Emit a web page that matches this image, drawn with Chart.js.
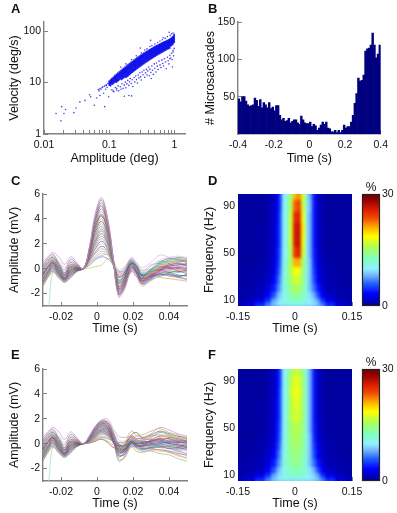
<!DOCTYPE html>
<html>
<head>
<meta charset="utf-8">
<style>
  html, body { margin: 0; padding: 0; background: #fff; }
  body { position: relative; width: 397px; height: 513px; overflow: hidden; font-family: "Liberation Sans", Arial, sans-serif; color: #111; }
  canvas { position: absolute; }
  .letter { position: absolute; font-size: 13px; font-weight: bold; line-height: 12px; }
  .pct { position: absolute; font-size: 12px; line-height: 12px; transform: translateX(-50%); }
</style>
</head>
<body>
<canvas id="chartA" width="197" height="170" style="left:0;top:0"></canvas>
<canvas id="chartB" width="197" height="170" style="left:200px;top:0"></canvas>
<canvas id="chartC" width="197" height="170" style="left:0;top:170px"></canvas>
<canvas id="chartD" width="197" height="170" style="left:200px;top:170px"></canvas>
<canvas id="barD" width="57" height="170" style="left:340px;top:170px"></canvas>
<canvas id="chartE" width="197" height="170" style="left:0;top:343px"></canvas>
<canvas id="chartF" width="197" height="170" style="left:200px;top:343px"></canvas>
<canvas id="barF" width="57" height="170" style="left:340px;top:343px"></canvas>
<div class="letter" style="left:11px;top:3px">A</div>
<div class="letter" style="left:208px;top:3px">B</div>
<div class="letter" style="left:11px;top:175px">C</div>
<div class="letter" style="left:208px;top:175px">D</div>
<div class="letter" style="left:11px;top:349px">E</div>
<div class="letter" style="left:208px;top:349px">F</div>
<div class="pct" style="left:371px;top:181px">%</div>
<div class="pct" style="left:371px;top:356px">%</div>
<script src="https://cdn.jsdelivr.net/npm/chart.js@4"></script>
<script>
// Panel A - dense band: amplitude columns and the velocities read in each one
const ampColumns = [0.1,0.105,0.11,0.116,0.122,0.128,0.135,0.142,0.15,0.158,0.166,0.175,0.184,0.194,0.204,0.215,0.226,0.238,0.25,0.263,0.277,0.291,0.306,0.322,0.339,0.357,0.376,0.396,0.416,0.438,0.461,0.485,0.51,0.537,0.565,0.595,0.626,0.659,0.693,0.73,0.768,0.808,0.85,0.895,0.94,0.99];
const velColumns = [
  [10.6,10,9.5,8.9],
  [11.2,10.5,10,9.4,8.7],
  [12,11.3,10.8,10,9.4],
  [12.7,12,11.3,10.6,9.8],
  [13.5,12.7,12,11.2,10.4],
  [14.3,13.4,12.7,11.9,11,10.2],
  [15.1,14.1,13.4,12.5,11.6,10.8],
  [16,14.9,14.1,13.2,12.3,11.4],
  [16.9,15.7,14.9,13.9,13,12.1],
  [17.9,16.6,15.8,14.7,13.7,12.8,11.9],
  [18.8,17.5,16.6,15.5,14.5,13.5,12.5],
  [19.9,18.5,17.5,16.4,15.3,14.3,13.3],
  [21,19.5,18.5,17.3,16.2,15.1,14,12.9],
  [22.2,20.6,19.5,18.2,17,15.9,14.8,13.6],
  [23.3,21.7,20.4,19.1,17.9,16.7,15.6,14.4],
  [24.5,22.9,21.6,20.2,18.9,17.7,16.5,15.2],
  [25.7,24.1,22.7,21.2,19.8,18.5,17.3,16],
  [27,25.3,23.8,22.3,20.9,19.5,18.2,16.9],
  [28.4,26.5,25,23.4,21.9,20.5,19.1,17.7],
  [29.7,27.8,26.2,24.6,23,21.5,20.1,18.6],
  [31.1,29.1,27.5,25.8,24.1,22.6,21.1,19.5],
  [32.5,30.4,28.7,26.9,25.2,23.6,22.1,20.5],
  [34,31.8,30.1,28.2,26.4,24.8,23.1,21.4],
  [35.4,33.2,31.4,29.5,27.6,25.9,24.2,22.4],
  [37,34.7,32.8,30.8,28.9,27.1,25.3,23.5],
  [38.5,36.2,34.2,32.1,30.2,28.3,26.5,24.6],
  [40.1,37.7,35.7,33.5,31.5,29.6,27.7,25.7],
  [41.7,39.2,37.1,34.9,32.8,30.8,28.9,26.8],
  [43.3,40.7,38.6,36.3,34.2,32.1,30.1,27.9],
  [44.9,42.3,40.1,37.8,35.6,33.5,31.4,29.1],
  [46.7,44,41.7,39.3,37,34.8,32.7,30.4],
  [48.5,45.7,43.3,40.8,38.5,36.2,34,31.6],
  [50.2,47.3,44.9,42.3,39.9,37.6,35.3,32.8],
  [52,49.1,46.6,44,41.5,39.1,36.7,34.1],
  [53.9,50.9,48.3,45.6,43,40.6,38.1,35.5],
  [55.7,52.6,50,47.2,44.6,42.1,39.6,36.8],
  [57.7,54.5,51.8,48.9,46.2,43.6,41,38.2],
  [59.5,56.3,53.5,50.6,47.8,45.2,42.5,39.6],
  [61.2,58.1,55.3,52.4,49.6,46.9,44.2,41.2],
  [63.1,59.9,57.1,54.1,51.2,48.5,45.7,42.6],
  [64.9,61.7,58.9,55.9,53,50.2,47.3,44.1],
  [67.1,63.8,60.9,57.8,54.8,51.9,48.9,45.6],
  [69.7,66.3,63.2,60,56.9,53.8,50.6,47.1],
  [72.7,69.1,65.8,62.4,59.1,55.8,52.4],
  [76.7,72.7,69.2,65.5,62,58.4,54.8],
  [85.7,80.7,76.5,72,68,64.2,60.5]
];
// second pass between those columns
const ampBetween = [0.102,0.107,0.113,0.119,0.125,0.131,0.138,0.146,0.154,0.162,0.17,0.179,0.189,0.199,0.209,0.22,0.232,0.244,0.256,0.27,0.284,0.298,0.314,0.33,0.348,0.366,0.386,0.406,0.427,0.449,0.473,0.497,0.523,0.551,0.58,0.61,0.642,0.676,0.711,0.749,0.788,0.829,0.872,0.917,0.965];
const velBetween = [
  [10.4,9.8,9.1],
  [11,10.3,9.7],
  [11.7,10.9,10.2,9.4],
  [12.4,11.6,10.9,10.1],
  [13,12.3,11.5,10.7],
  [13.8,13,12.2,11.3,10.5],
  [14.7,13.7,12.9,12,11.1],
  [15.5,14.5,13.6,12.7,11.8],
  [16.4,15.3,14.4,13.4,12.5,11.5],
  [17.3,16.2,15.2,14.1,13.2,12.2],
  [18.2,17.1,16,15,13.9,12.9],
  [19.2,18,16.9,15.8,14.7,13.7,12.6],
  [20.3,19,17.9,16.7,15.6,14.5,13.4],
  [21.4,20,18.8,17.6,16.4,15.3,14.2],
  [22.5,21.1,19.8,18.5,17.3,16.1,15],
  [23.7,22.2,20.9,19.6,18.3,17.1,15.9],
  [24.9,23.4,22,20.6,19.2,18,16.6],
  [26.2,24.6,23.1,21.6,20.2,18.9,17.5],
  [27.5,25.8,24.2,22.6,21.2,19.8,18.4],
  [28.8,27,25.4,23.8,22.3,20.8,19.3],
  [30.2,28.4,26.6,25,23.4,21.9,20.3],
  [31.7,29.7,27.9,26.1,24.5,22.9,21.3],
  [33.1,31.1,29.2,27.4,25.7,24,22.3],
  [34.7,32.6,30.6,28.7,26.9,25.2,23.4],
  [36.2,34,32,30,28.2,26.4,24.5],
  [37.8,35.6,33.4,31.4,29.4,27.6,25.7],
  [39.4,37.1,34.9,32.8,30.8,28.9,26.9],
  [41,38.6,36.3,34.2,32.1,30.1,28],
  [42.6,40.2,37.9,35.6,33.5,31.5,29.4],
  [44.3,41.8,39.4,37.1,34.9,32.8,30.6],
  [46,43.5,41,38.6,36.3,34.1,31.9],
  [47.8,45.1,42.6,40.1,37.8,35.5,33.2],
  [49.5,46.9,44.2,41.7,39.3,37,34.6],
  [51.3,48.6,45.9,43.3,40.8,38.5,36],
  [53.1,50.4,47.6,45,42.4,40,37.5],
  [54.9,52.1,49.3,46.6,44,41.5,38.8],
  [56.8,53.9,51,48.2,45.6,43,40.4],
  [58.8,55.7,52.8,50,47.3,44.6,41.9],
  [60.5,57.5,54.6,51.7,49,46.3,43.5],
  [62.4,59.3,56.4,53.4,50.6,47.9,45],
  [64.3,61.2,58.2,55.3,52.4,49.5,46.6],
  [66.5,63.2,60.2,57.1,54.1,51.3,48.2],
  [69.8,65.9,62.6,59.4,56.2,53.2],
  [73.8,69.9,66.5,62.8,59.4,56],
  [79.8,75.4,71,67,63.4,59.7]
];
// Panel A - loose points below and above the band, and the far outliers
const ampTail = [0.0153,0.0187,0.0182,0.0214,0.0202,0.0287,0.0309,0.0355,0.0425,0.052,0.05,0.059,0.064,0.072,0.068,0.085,0.098,0.17,0.2,0.22,0.115,0.13,0.43,0.3,0.83,0.67,0.93,0.85,0.44,0.95,0.072,0.078,0.082,0.09,0.075,0.08,0.085,0.09,0.095,0.07,0.088,0.093,
  0.11,0.118,0.124,0.13,0.137,0.14,0.148,0.152,0.157,0.163,0.17,0.176,0.18,0.186,0.192,0.2,0.205,0.21,0.218,0.225,0.23,0.24,0.247,0.255,0.262,0.27,0.278,0.285,0.295,0.303,0.31,0.32,0.33,0.34,0.35,0.36,0.372,0.38,0.39,0.4,0.41,0.42,0.435,0.45,0.46,0.475,0.49,0.5,0.52,0.53,0.545,0.56,0.58,0.6,0.62,0.64,0.66,0.68,0.7,0.73,0.75,0.78,0.8,0.82,0.85,0.87,0.9,0.92,0.95,0.97,0.99,
  0.26,0.31,0.38,0.45,0.5,0.55,0.6,0.65,0.72,0.78,0.86,0.9,0.95,0.22,0.18,0.15,0.35,0.42];
const velTail = [2.5,3.4,1.8,3,2.5,2.6,3.2,4.2,4.5,5.3,5.8,3.6,5,5.6,7.3,3.4,5.3,5.4,5.6,5.5,6.8,7.6,66,47,95,74,20,29,12,39,7.6,8,6.2,8.8,7.5,8.3,8.5,9,9.6,6.9,7.4,8,
  7.2,6.6,8,7.1,8.6,6.9,8.3,7.4,9.5,7.7,8.9,10.2,7.9,9.4,11,8.8,10.3,12,9.6,11.3,8.4,12.5,10.2,13.4,11.4,9.8,14,12.3,15.5,13,11.2,16,14.2,17.3,12.6,15.4,18,14,16.8,20,13.5,18.2,15.7,21,17.3,14.4,23,19,16,24,20.8,18,26,22,19.5,27.5,23.5,21,29,25,18.5,31,26.5,23,34,30,37,28,42,33,46,
  33,38,45,52,56,60,64,68,72,78,82,88,92,28,23,20,43,50];

// Panel B - microsaccade counts per 10 ms bin
const binStarts = [-0.4,-0.39,-0.38,-0.37,-0.36,-0.35,-0.34,-0.33,-0.32,-0.31,-0.3,-0.29,-0.28,-0.27,-0.26,-0.25,-0.24,-0.23,-0.22,-0.21,-0.2,-0.19,-0.18,-0.17,-0.16,-0.15,-0.14,-0.13,-0.12,-0.11,-0.1,-0.09,-0.08,-0.07,-0.06,-0.05,-0.04,-0.03,-0.02,-0.01,0,0.01,0.02,0.03,0.04,0.05,0.06,0.07,0.08,0.09,0.1,0.11,0.12,0.13,0.14,0.15,0.16,0.17,0.18,0.19,0.2,0.21,0.22,0.23,0.24,0.25,0.26,0.27,0.28,0.29,0.3,0.31,0.32,0.33,0.34,0.35,0.36,0.37,0.38,0.39];
const saccadeCounts = [47,43,50,50,44,39,37,38,39,48,45,37,46,35,42,39,35,42,34,36,31,38,38,25,19,21,17,18,21,15,17,19,19,15,13,24,19,15,14,14,16,10,13,11,5,8,12,16,13,16,8,7,3,3,5,2,5,2,5,12,8,10,10,16,25,41,54,75,71,72,79,111,114,115,119,135,119,102,107,119];

// Panels C and E - LFP traces in mV, the part before the convergence is shared
const preTimes = [-0.03,-0.027,-0.0245,-0.021,-0.018,-0.0145,-0.011,-0.0075];
const preTraces = [
  [0.5,1,1.3,0.9,0.35,0.95,0.45,0],
  [0.6,0.9,1.1,0.55,0.1,0.6,0.3,0],
  [0.3,0.85,1.15,0.4,-0.1,0.75,0.35,0],
  [0.2,0.7,0.95,0.3,-0.3,0.5,0.3,0],
  [0.1,0.6,0.9,0.2,-0.35,0.3,0.2,0],
  [0,0.5,0.8,0.15,-0.45,0.35,0.25,0],
  [-0.1,0.45,0.7,0.05,-0.5,0.2,0.15,0],
  [-0.2,0.35,0.65,0,-0.55,0.15,0.15,0],
  [-0.3,0.3,0.6,-0.1,-0.6,0.1,0.1,0],
  [-0.35,0.2,0.55,-0.05,-0.7,0,0.05,0],
  [-0.4,0.15,0.5,-0.15,-0.65,-0.05,0.1,0],
  [-0.5,0.1,0.45,-0.2,-0.75,-0.1,0,0],
  [-0.55,0,0.4,-0.25,-0.7,-0.15,0.05,0],
  [-0.6,-0.05,0.4,-0.3,-0.8,-0.2,-0.05,0],
  [-0.7,-0.1,0.35,-0.3,-0.85,-0.2,0,0],
  [-0.75,-0.15,0.3,-0.35,-0.8,-0.3,-0.05,0],
  [-0.8,-0.2,0.3,-0.4,-0.9,-0.3,-0.1,0],
  [-0.85,-0.2,0.25,-0.45,-0.85,-0.35,-0.05,0],
  [-0.9,-0.3,0.2,-0.45,-0.95,-0.4,-0.1,0],
  [-1,-0.3,0.15,-0.5,-0.9,-0.45,-0.15,0],
  [-1,-0.35,0.1,-0.5,-1,-0.5,-0.1,0],
  [-1.1,-0.4,0.05,-0.55,-0.95,-0.5,-0.15,0],
  [-1.1,-0.45,0,-0.6,-1,-0.6,-0.15,0],
  [-1.2,-0.5,-0.05,-0.65,-1.05,-0.55,-0.2,0],
  [-1.2,-0.55,-0.1,-0.7,-1,-0.65,-0.15,0],
  [-1.3,-0.6,-0.15,-0.7,-1.1,-0.65,-0.2,0],
  [-1.35,-0.6,-0.2,-0.75,-1.05,-0.7,-0.2,0],
  [-1.4,-0.7,-0.3,-0.8,-1.1,-0.7,-0.25,0],
  [-0.45,0.2,0.5,-0.1,-0.5,0.1,0.05,0],
  [-6,-3.3,-0.2,0.2,-0.5,-0.2,0.1,0]
];
const postTimes = [-0.004,-0.001,0.0025,0.006,0.009,0.012,0.015,0.019,0.022,0.025,0.03,0.035,0.04,0.045,0.05];
const tracesC = [
  [1.9,4.4,5.7,4,0.9,-2.2,-1.7,-0.2,-0.6,-1.3,-0.9,-0.3,0.1,0.2,0.1],
  [1.9,4.3,5.6,3.8,0.7,-2.3,-1.8,-0.3,-0.7,-1.4,-1,-0.5,-0.2,-0.1,-0.3],
  [1.8,4.2,5.5,3.9,0.9,-2.1,-1.5,-0.1,-0.4,-1.2,-0.7,-0.1,0.3,0.4,0.3],
  [1.8,4,5.3,3.7,0.8,-2,-1.6,-0.2,-0.6,-1.1,-0.8,-0.4,-0.3,-0.5,-0.6],
  [1.7,3.9,5.1,3.5,0.7,-2,-1.4,0,-0.3,-1,-0.5,0.1,0.4,0.6,0.5],
  [1.7,3.8,5,3.5,0.9,-1.9,-1.4,0.1,-0.4,-1.2,-0.9,-0.6,-0.5,-0.7,-0.8],
  [1.6,3.6,4.8,3.4,0.6,-1.8,-1.3,0.1,-0.2,-0.9,-0.6,-0.1,0,0.1,0],
  [1.6,3.5,4.6,3.2,0.8,-1.7,-1.2,0.2,-0.3,-1,-0.4,0.2,0.5,0.7,0.6],
  [1.5,3.4,4.4,3.1,0.6,-1.7,-1.2,0.3,-0.1,-0.8,-0.7,-0.4,-0.2,-0.3,-0.2],
  [1.4,3.2,4.2,3,0.7,-1.6,-1.1,0.2,-0.3,-1,-0.5,-0.1,0.2,0.3,0.4],
  [1.4,3,4,2.8,0.5,-1.5,-1,0.3,0,-0.7,-0.3,0.3,0.6,0.8,0.7],
  [1.3,2.9,3.8,2.7,0.6,-1.4,-0.9,0.4,-0.2,-0.8,-0.6,-0.5,-0.4,-0.6,-0.5],
  [1.2,2.7,3.6,2.5,0.5,-1.4,-1,0.3,-0.1,-0.9,-0.8,-0.2,0,-0.1,-0.3],
  [1.2,2.6,3.4,2.4,0.6,-1.2,-0.8,0.4,0.1,-0.6,-0.2,0.4,0.7,0.9,0.8],
  [1.1,2.4,3.2,2.3,0.4,-1.2,-0.8,0.5,0,-0.7,-0.5,-0.3,-0.1,0,0.1],
  [1,2.2,3,2.1,0.5,-1.1,-0.7,0.3,-0.2,-0.8,-0.4,0,0.3,0.4,0.2],
  [1,2.1,2.8,2,0.5,-1,-0.6,0.5,0.2,-0.5,-0.1,0.5,0.8,0.7,0.6],
  [0.9,1.9,2.6,1.9,0.4,-0.9,-0.5,0.4,0,-0.7,-0.6,-0.4,-0.6,-0.7,-0.9],
  [0.9,1.8,2.4,1.7,0.4,-0.9,-0.6,0.6,0.2,-0.4,0,0.6,0.4,0.2,0.3],
  [0.8,1.6,2.2,1.6,0.5,-0.7,-0.4,0.5,0.1,-0.6,-0.3,0.1,0.1,-0.2,-0.1],
  [0.7,1.5,2,1.5,0.3,-0.7,-0.3,0.6,0.3,-0.3,0.2,0.7,0.9,1,0.9],
  [0.7,1.3,1.8,1.4,0.3,-0.6,-0.4,0.7,0.2,-0.5,-0.2,-0.1,-0.3,-0.2,-0.4],
  [0.6,1.2,1.6,1.3,0.4,-0.5,-0.2,0.8,0.4,-0.2,0.3,0.4,0.2,0.5,0.2],
  [0.5,1,1.4,1.2,0.3,-0.4,-0.3,0.5,0.1,-0.6,-0.5,-0.7,-0.8,-0.9,-1],
  [0.5,0.9,1.2,1.1,0.5,-0.3,-0.1,0.9,0.5,0.1,0.5,1.1,0.9,0.8,0.6],
  [0.4,0.8,1.05,1.1,0.4,-0.3,0,0.6,0.3,-0.3,-0.1,0.3,0.6,0.5,0.7],
  [0.3,0.7,0.95,0.8,0.3,-0.2,-0.2,0.4,0,-0.5,-0.4,-0.5,-0.5,-0.6,-0.5],
  [0.05,0.15,0.3,0.8,0.6,-0.1,0.1,0.7,0.3,-0.1,0,0.2,0,0.1,-0.2],
  [1.5,3.3,4.3,3,0.6,-1.6,-1.2,0.1,-0.4,-1,-0.7,-0.2,0.1,0,-0.1],
  [1,2.3,3.1,2.2,0.5,-1.1,-0.8,0.3,0,-0.6,-0.3,0,0.2,0.3,0.4]
];
const tracesE = [
  [0.7,1.4,1.9,1.95,1.2,0.6,0.5,0.6,0.6,0.5,0.8,1.3,1.1,0.8,0.6],
  [0.7,1.4,1.85,1.8,1,0.3,0.2,0.5,0.3,0.3,0.4,0.5,0.6,0.5,0.4],
  [0.6,1.3,1.8,1.7,0.9,0,-0.2,0.2,0.1,0,0.1,0.2,0,0.2,0.2],
  [0.6,1.3,1.8,1.7,0.9,-0.2,-0.5,0.1,-0.1,-0.2,-0.1,0,-0.2,-0.4,-0.3],
  [0.6,1.2,1.7,1.6,0.7,-0.5,-0.6,0,0,0,0.2,0.3,0.4,0.1,0.2],
  [0.5,1.2,1.7,1.5,0.6,-0.7,-0.7,-0.2,-0.3,-0.4,-0.3,-0.2,-0.4,-0.6,-0.8],
  [0.5,1.1,1.6,1.5,0.5,-0.9,-0.9,0,-0.2,-0.1,0,0.1,0.1,0,-0.1],
  [0.5,1.1,1.6,1.4,0.5,-1.2,-1.2,-0.3,-0.6,-0.7,-0.5,-0.5,-0.7,-0.9,-1.2],
  [0.5,1,1.5,1.4,0.4,-1.4,-1.1,-0.1,-0.3,-0.5,-0.3,0,0.2,0.3,0.1],
  [0.4,1,1.5,1.3,0.3,-1,-0.8,0.1,-0.1,-0.2,0.3,0.6,0.5,0.4,0.2],
  [0.4,0.9,1.4,1.3,0.4,-0.8,-0.9,-0.2,-0.4,-0.6,-0.6,-0.8,-0.9,-1.2,-1.4],
  [0.4,0.9,1.4,1.2,0.3,-0.7,-0.6,0.2,0,0.1,0.2,0.3,0,-0.1,-0.2],
  [0.4,0.8,1.3,1.2,0.2,-0.6,-0.7,0,-0.2,-0.3,-0.2,-0.1,-0.3,-0.5,-0.4],
  [0.3,0.8,1.3,1.1,0.3,-0.5,-0.5,0.3,0.2,0.2,0.5,0.9,0.7,0.5,0.4],
  [0.3,0.8,1.2,1.1,0.2,-0.6,-0.6,0.1,-0.1,-0.4,-0.4,-0.5,-0.6,-0.8,-0.9],
  [0.3,0.7,1.2,1,0.2,-0.4,-0.4,0.4,0.3,0.1,0.1,0.2,0.3,0.2,0],
  [0.3,0.7,1.1,1,0.1,-0.5,-0.5,0,-0.2,-0.2,-0.1,-0.2,-0.4,-0.3,-0.5],
  [0.3,0.6,1.1,0.9,0.2,-0.3,-0.3,0.5,0.2,0.3,0.6,0.7,0.6,0.3,0.3],
  [0.2,0.6,1,0.9,0.1,-0.4,-0.4,0.2,0,-0.1,0,-0.1,0.1,-0.1,-0.2],
  [0.2,0.6,1,0.8,0.2,-0.2,-0.2,0.6,0.4,0.4,0.3,0.4,0.2,0.1,0.1],
  [0.2,0.5,0.9,0.8,0.1,-0.3,-0.5,0,-0.3,-0.5,-0.5,-0.6,-0.7,-1,-1.1],
  [0.2,0.5,0.9,0.7,0.2,-0.1,-0.1,0.7,0.9,0.5,0.7,1,0.8,0.6,0.5],
  [0.2,0.5,0.8,0.7,0.1,-0.2,-0.3,0.3,0.1,0,-0.1,0,0.2,0.1,0],
  [0.15,0.4,0.8,0.6,0.2,0,0,1,0.7,0.7,1,1.2,0.9,0.7,0.3],
  [0.15,0.4,0.7,0.6,0.1,-0.2,-0.2,0.4,0.2,0.1,0.1,-0.1,-0.3,-0.5,-0.6],
  [0.1,0.35,0.6,0.5,0.1,-0.1,-0.3,0.1,-0.1,-0.3,-0.4,-0.2,-0.1,-0.3,-0.4],
  [0.1,0.3,0.5,0.4,0.2,0.1,0.1,0.5,0.3,0.2,0.2,0.4,0.4,0.2,0],
  [0.1,0.25,0.4,0.2,-0.1,-0.2,-0.2,0.2,0,-0.2,-0.2,-0.3,-0.6,-0.7,-1],
  [0.05,0.2,0.35,0.1,-0.3,-0.4,-0.4,0,-0.1,-0.4,-0.3,-0.3,-0.2,-0.2,-0.3],
  [0.5,1.1,1.6,1.4,0.6,-0.3,-0.4,0.3,0.1,0,0,0.1,-0.1,-0.2,-0.3]
];

// Panels D and F - percent values, rows from 100 Hz down to 5 Hz
const heatTimes = [-0.15,-0.12,-0.09,-0.07,-0.055,-0.045,-0.04,-0.03,-0.02,-0.01,0,0.01,0.02,0.03,0.04,0.05,0.06,0.07,0.09,0.12,0.15];
const heatFreqs = [100,90,80,70,60,50,42,35,27,20,14,10,7,5];
const heatD = [
  [0.5,0.5,0.5,0.8,1.4,3,5.5,10,11.5,15,21,22,17,11,8,4,1.5,0.8,0.5,0.5,0.5],
  [0.5,0.5,0.5,0.8,1.5,3,5.5,10,12,16,23,24,17,11,8.5,4,1.6,0.9,0.5,0.5,0.5],
  [0.5,0.5,0.5,0.9,1.5,3,6,10,12,17,25,25.5,18,11,8,4,1.6,0.9,0.5,0.5,0.5],
  [0.5,0.5,0.6,0.9,1.6,3.5,6,10,12,17,26,26.5,19,11,8,4,1.5,0.9,0.5,0.5,0.5],
  [0.5,0.5,0.6,1,1.7,3.5,6,10,12,17,26,26.5,18,11,8,4,1.7,1,0.5,0.5,0.5],
  [0.5,0.5,0.6,1,1.8,3.8,6.2,10,12,16,24.5,25.5,17,11,8,4.2,1.9,1,0.6,0.5,0.5],
  [0.5,0.5,0.7,1.1,2,4,6.5,10.5,12.5,16,21,21,15,11,8.5,4.5,2.2,1.2,0.7,0.5,0.5],
  [0.5,0.6,0.8,1.3,2.3,4.5,7,10.5,13,16,18.5,18,14.5,11,8.5,5,2.5,1.4,0.8,0.6,0.5],
  [0.5,0.6,0.9,1.6,3,5.5,7.5,11,13,15.5,17,17,14,11,8.5,5.5,3,1.7,0.9,0.6,0.5],
  [0.6,0.7,1.1,2.2,4,6.5,8,11,12.5,14.5,15.5,15.5,13.5,11,8.5,6.5,4,2.3,1.1,0.7,0.6],
  [0.7,0.9,1.5,3.2,5.5,8,9,10.8,12,13,13.8,13.8,12.5,11,9.5,8,5.5,3.3,1.6,0.9,0.7],
  [0.8,1.2,2.3,4.5,7.5,9,9.5,10.8,11.5,12,12.5,12.5,11.8,10.8,9.8,9,7.5,4.6,2.4,1.2,0.8],
  [1,1.8,4,6.5,8.5,9.5,10,10.5,11,11.3,11.5,11.5,11,10.5,10,9.5,8.5,6.5,4,1.8,1],
  [1.2,2.8,5,7,8,8.5,8.8,9,9,9,9.2,9.2,9,9,8.8,8.5,8,7,5,2.8,1.2]
];
const heatF = [
  [0.5,0.5,0.5,0.8,1.4,3,5.5,10,12,15,16.5,16.5,14,11,8,4,1.5,0.8,0.5,0.5,0.5],
  [0.5,0.5,0.5,0.8,1.5,3,5.5,10,12.5,16,17.5,17.5,14.5,11,8,4,1.6,0.9,0.5,0.5,0.5],
  [0.5,0.5,0.5,0.9,1.5,3,6,10,12.5,16.5,18,18,14.5,11,8,4,1.6,0.9,0.5,0.5,0.5],
  [0.5,0.5,0.6,0.9,1.6,3.5,6,10,12.5,16,17.5,17.5,14.5,11,8,4,1.5,0.9,0.5,0.5,0.5],
  [0.5,0.5,0.6,1,1.7,3.5,6,10,12.5,16,17,17,14.5,11,8,4,1.7,1,0.5,0.5,0.5],
  [0.5,0.5,0.6,1,1.8,3.8,6.2,10,12.5,15,16,16,14,11,8,4.2,1.9,1,0.6,0.5,0.5],
  [0.5,0.5,0.7,1.1,2,4,6.5,10.5,12.5,15,15.5,15.5,13.5,11,8.5,4.5,2.2,1.2,0.7,0.5,0.5],
  [0.5,0.6,0.8,1.3,2.3,4.5,7,10.5,12.5,14.5,15,15,13.5,11,8.5,5,2.5,1.4,0.8,0.6,0.5],
  [0.5,0.6,0.9,1.6,3,5.5,7.5,11,12.5,14,14.5,14.5,13,11,8.5,5.5,3,1.7,0.9,0.6,0.5],
  [0.6,0.7,1.1,2.2,4,6.5,8,11,12.5,13.5,14,14,12.8,11,8.5,6.5,4,2.3,1.1,0.7,0.6],
  [0.7,0.9,1.5,3.2,5.5,8,9,10.8,12,12.7,13,13,12.2,11,9.5,8,5.5,3.3,1.6,0.9,0.7],
  [0.8,1.2,2.3,4.5,7.5,9,9.5,10.6,11.2,11.8,12,12,11.5,10.6,9.8,9,7.5,4.6,2.4,1.2,0.8],
  [1,1.8,4,6.5,8.5,9.5,10,10.4,10.7,11,11,11,10.7,10.4,10,9.5,8.5,6.5,4,1.8,1],
  [1.2,2.8,5,7,8,8.5,8.8,9,9,9,9,9,9,9,8.8,8.5,8,7,5,2.8,1.2]
];

// tick labels
const ampTicks = [0.01,0.02,0.03,0.04,0.05,0.06,0.07,0.08,0.09,0.1,0.2,0.3,0.4,0.5,0.6,0.7,0.8,0.9,1];
const ampLabels = [0.01,0.1,1];
const velTicks = [1,10,100];
const countTicks = [50,100,150];
const binTicks = [-0.4,-0.2,0,0.2,0.4];
const lfpTimeTicks = [-0.02,0,0.02,0.04];
const lfpTicks = [-2,0,2,4,6];
const heatTimeTicks = [-0.15,0,0.15];
const freqTicks = [10,50,90];
const pctTicks = [0,10,20,30];
const pctLabels = [0,30];

const traceColors = ["#c77be8","#e0c060","#6a5acd","#2e8b57","#d05050","#5b7fe0","#8a3fa0","#c89030","#3a9ad0","#a03050","#7fbf50","#402090","#e08090","#30a090","#b060c0","#909030","#4050b0","#d07040","#60b0b0","#803070","#d8b0e8","#506030","#a0a0e0","#c0a040","#e0a0e0","#70c090","#7070d0","#b8c050","#b02020","#3050a0"];
const axisGray = "#808080";

// colour map sampled from the reference colour bar
const mapStops = [
  [0, [0,0,128]], [0.02, [0,0,165]], [0.11, [0,0,255]], [0.2, [32,96,255]], [0.27, [112,176,255]],
  [0.33, [144,240,255]], [0.42, [128,255,192]], [0.53, [176,255,80]], [0.62, [255,255,0]],
  [0.7, [255,176,0]], [0.78, [240,80,0]], [0.85, [224,32,0]], [0.95, [144,0,0]], [1, [112,0,0]]
];

function colourAt(t) {
  const v = Math.max(0, Math.min(1, t));
  for (let i = 1; i < mapStops.length; i++) {
    if (v <= mapStops[i][0]) {
      const [p0, c0] = mapStops[i - 1];
      const [p1, c1] = mapStops[i];
      const k = (v - p0) / (p1 - p0);
      return `rgb(${c0.map((c, n) => Math.round(c + (c1[n] - c) * k)).join(",")})`;
    }
  }
  return "rgb(112,0,0)";
}

function fixedTicks(list) {
  return scale => { scale.ticks = list.map(v => ({ value: v })); };
}

function axis(opts) {
  const isX = opts.pos === "bottom";
  return {
    type: opts.type || "linear",
    position: opts.pos,
    min: opts.min,
    max: opts.max,
    offset: false,
    afterBuildTicks: fixedTicks(opts.ticks),
    afterFit: scale => {
      if (isX) scale.height = opts.size; else scale.width = opts.size;
    },
    border: { display: true, color: axisGray, width: opts.borderWidth === undefined ? 1.4 : opts.borderWidth },
    grid: {
      offset: false,
      drawOnChartArea: false,
      drawTicks: true,
      tickLength: -4,
      tickColor: opts.tickColor || axisGray,
      tickWidth: 1
    },
    ticks: {
      autoSkip: false,
      maxRotation: 0,
      padding: isX ? 9 : 7,
      color: "#111",
      font: { family: "Liberation Sans", size: 10.5 },
      callback: opts.label || (v => String(v))
    },
    title: {
      display: true,
      text: opts.title,
      color: "#111",
      font: { family: "Liberation Sans", size: 12.5 },
      padding: isX ? { top: 0, bottom: opts.titlePad } : { top: opts.titlePad, bottom: 0 }
    }
  };
}

function baseOptions(padding, x, y) {
  return {
    responsive: false,
    animation: false,
    events: [],
    layout: { autoPadding: false, padding: padding },
    plugins: { legend: { display: false }, tooltip: { enabled: false } },
    scales: { x: x, y: y }
  };
}

// Panel A
const bandPoints = [];
ampColumns.forEach((a, i) => velColumns[i].forEach(v => bandPoints.push({ x: a, y: v })));
ampBetween.forEach((a, i) => velBetween[i].forEach(v => bandPoints.push({ x: a, y: v })));
const tailPoints = ampTail.map((a, i) => ({ x: a, y: velTail[i] }));

new Chart(document.getElementById("chartA"), {
  type: "scatter",
  data: { datasets: [
    { data: bandPoints, pointRadius: 0.95, pointBorderWidth: 0, backgroundColor: "rgba(14,14,235,0.85)" },
    { data: tailPoints, pointRadius: 0.8, pointBorderWidth: 0, backgroundColor: "rgba(20,20,240,0.8)" }
  ] },
  options: baseOptions({ left: 0, right: 12, top: 22, bottom: 0 },
    axis({ pos: "bottom", type: "logarithmic", min: 0.01, max: 1.45, ticks: ampTicks, size: 36, title: "Amplitude (deg)", titlePad: 4,
      label: v => ampLabels.includes(v) ? String(v) : "" }),
    axis({ pos: "left", type: "logarithmic", min: 1, max: 150, ticks: velTicks, size: 44, title: "Velocity (deg/s)", titlePad: 7 }))
});

// Panel B
new Chart(document.getElementById("chartB"), {
  type: "bar",
  data: { datasets: [{
    data: binStarts.map((t, i) => ({ x: t + 0.005, y: saccadeCounts[i] })),
    backgroundColor: "#00007f",
    barPercentage: 1,
    categoryPercentage: 1
  }] },
  options: baseOptions({ left: 0, right: 16, top: 22, bottom: 0 },
    axis({ pos: "bottom", min: -0.4, max: 0.4, ticks: binTicks, size: 36, title: "Time (s)", titlePad: 4 }),
    axis({ pos: "left", min: 0, max: 150, ticks: countTicks, size: 38, title: "# Microsaccades", titlePad: 3 }))
});

// Panels C and E
function lfpChart(id, traces, top, xSize, titlePad) {
  const datasets = preTraces.map((pre, i) => {
    const post = traces[i];
    const points = preTimes.map((t, k) => ({ x: t, y: pre[k] }))
      .concat(postTimes.map((t, k) => ({ x: t, y: post[k] })));
    return {
      data: points,
      borderColor: traceColors[i % traceColors.length] + "c8",
      borderWidth: 0.8,
      pointRadius: 0,
      tension: 0.4,
      fill: false
    };
  });
  datasets[datasets.length - 1].borderColor = "#a8dcdc";
  new Chart(document.getElementById(id), {
    type: "line",
    data: { datasets: datasets },
    options: baseOptions({ left: 0, right: 10, top: top, bottom: 0 },
      axis({ pos: "bottom", min: -0.03, max: 0.05, ticks: lfpTimeTicks, size: xSize, title: "Time (s)", titlePad: titlePad }),
      axis({ pos: "left", min: -3, max: 6, ticks: lfpTicks, size: 43, title: "Amplitude (mV)", titlePad: 7 }))
  });
}
lfpChart("chartC", tracesC, 24, 34, 4);
lfpChart("chartE", tracesE, 26, 32, 1.5);

// Panels D and F - cells go through the scales, then get softened like the original
const heatPlugin = {
  id: "heat",
  beforeDatasetsDraw(chart, args, opts) {
    const { ctx, chartArea: area, scales } = chart;
    const off = document.createElement("canvas");
    off.width = chart.width;
    off.height = chart.height;
    const o = off.getContext("2d");
    const xEdge = i => {
      if (i <= 0) return scales.x.getPixelForValue(heatTimes[0]) - 8;
      if (i >= heatTimes.length) return scales.x.getPixelForValue(heatTimes[heatTimes.length - 1]) + 8;
      return scales.x.getPixelForValue((heatTimes[i - 1] + heatTimes[i]) / 2);
    };
    const yEdge = j => {
      if (j <= 0) return scales.y.getPixelForValue(heatFreqs[0]) - 8;
      if (j >= heatFreqs.length) return scales.y.getPixelForValue(heatFreqs[heatFreqs.length - 1]) + 8;
      return scales.y.getPixelForValue((heatFreqs[j - 1] + heatFreqs[j]) / 2);
    };
    opts.cells.forEach((row, j) => row.forEach((val, i) => {
      o.fillStyle = colourAt(val / 30);
      const x0 = Math.round(xEdge(i)), x1 = Math.round(xEdge(i + 1));
      const y0 = Math.round(yEdge(j)), y1 = Math.round(yEdge(j + 1));
      o.fillRect(x0, y0, x1 - x0, y1 - y0);
    }));
    ctx.save();
    ctx.beginPath();
    ctx.rect(area.left, area.top, area.right - area.left, area.bottom - area.top);
    ctx.clip();
    ctx.filter = "blur(1.6px)";
    ctx.drawImage(off, 0, 0);
    ctx.restore();
  }
};

function heatChart(id, cells, top, xSize, titlePad) {
  const options = baseOptions({ left: 0, right: 45, top: top, bottom: 0 },
    axis({ pos: "bottom", min: -0.15, max: 0.15, ticks: heatTimeTicks, size: xSize, title: "Time (s)", titlePad: titlePad, borderWidth: 0 }),
    axis({ pos: "left", min: 5, max: 100, ticks: freqTicks, size: 38, title: "Frequency (Hz)", titlePad: 2, borderWidth: 0 }));
  options.plugins.heat = { cells: cells };
  new Chart(document.getElementById(id), {
    type: "scatter",
    data: { datasets: [{ data: [] }] },
    options: options,
    plugins: [heatPlugin]
  });
}
heatChart("chartD", heatD, 24, 34, 4);
heatChart("chartF", heatF, 26, 32, 1.5);

// colour bars
const framePlugin = {
  id: "frame",
  afterDatasetsDraw(chart) {
    const { ctx, chartArea: a } = chart;
    ctx.save();
    ctx.strokeStyle = "#222";
    ctx.lineWidth = 1.2;
    ctx.strokeRect(a.left + 0.5, a.top + 0.5, a.right - a.left - 1, a.bottom - a.top - 1);
    ctx.restore();
  }
};

function colourBar(id, top, xSize) {
  const barTick = ctx => (pctLabels.includes(ctx.tick.value) ? "rgba(0,0,0,0)" : "#333");
  const yAxis = axis({ pos: "right", min: 0, max: 30, ticks: pctTicks, size: 17, title: "", titlePad: 0, tickColor: barTick, borderWidth: 0,
    label: v => pctLabels.includes(v) ? String(v) : "" });
  yAxis.title.display = false;
  yAxis.ticks.padding = 6;
  const yLeft = axis({ pos: "left", min: 0, max: 30, ticks: pctTicks, size: 22, title: "", titlePad: 0, tickColor: barTick, borderWidth: 0, label: () => "" });
  yLeft.title.display = false;
  const options = baseOptions({ left: 0, right: 0, top: top, bottom: 0 },
    { type: "category", display: false, afterFit: s => { s.height = 0; } }, yAxis);
  options.scales.yLeft = yLeft;
  options.layout.padding.bottom = xSize;
  new Chart(document.getElementById(id), {
    type: "bar",
    data: {
      labels: ["%"],
      datasets: [{
        data: [[0, 30]],
        barPercentage: 1,
        categoryPercentage: 1,
        backgroundColor: ctx => {
          const a = ctx.chart.chartArea;
          if (!a) return "#00f";
          const g = ctx.chart.ctx.createLinearGradient(0, a.bottom, 0, a.top);
          mapStops.forEach(s => g.addColorStop(s[0], colourAt(s[0])));
          return g;
        }
      }]
    },
    options: options,
    plugins: [framePlugin]
  });
}
colourBar("barD", 24, 34);
colourBar("barF", 26, 32);
</script>
</body>
</html>
